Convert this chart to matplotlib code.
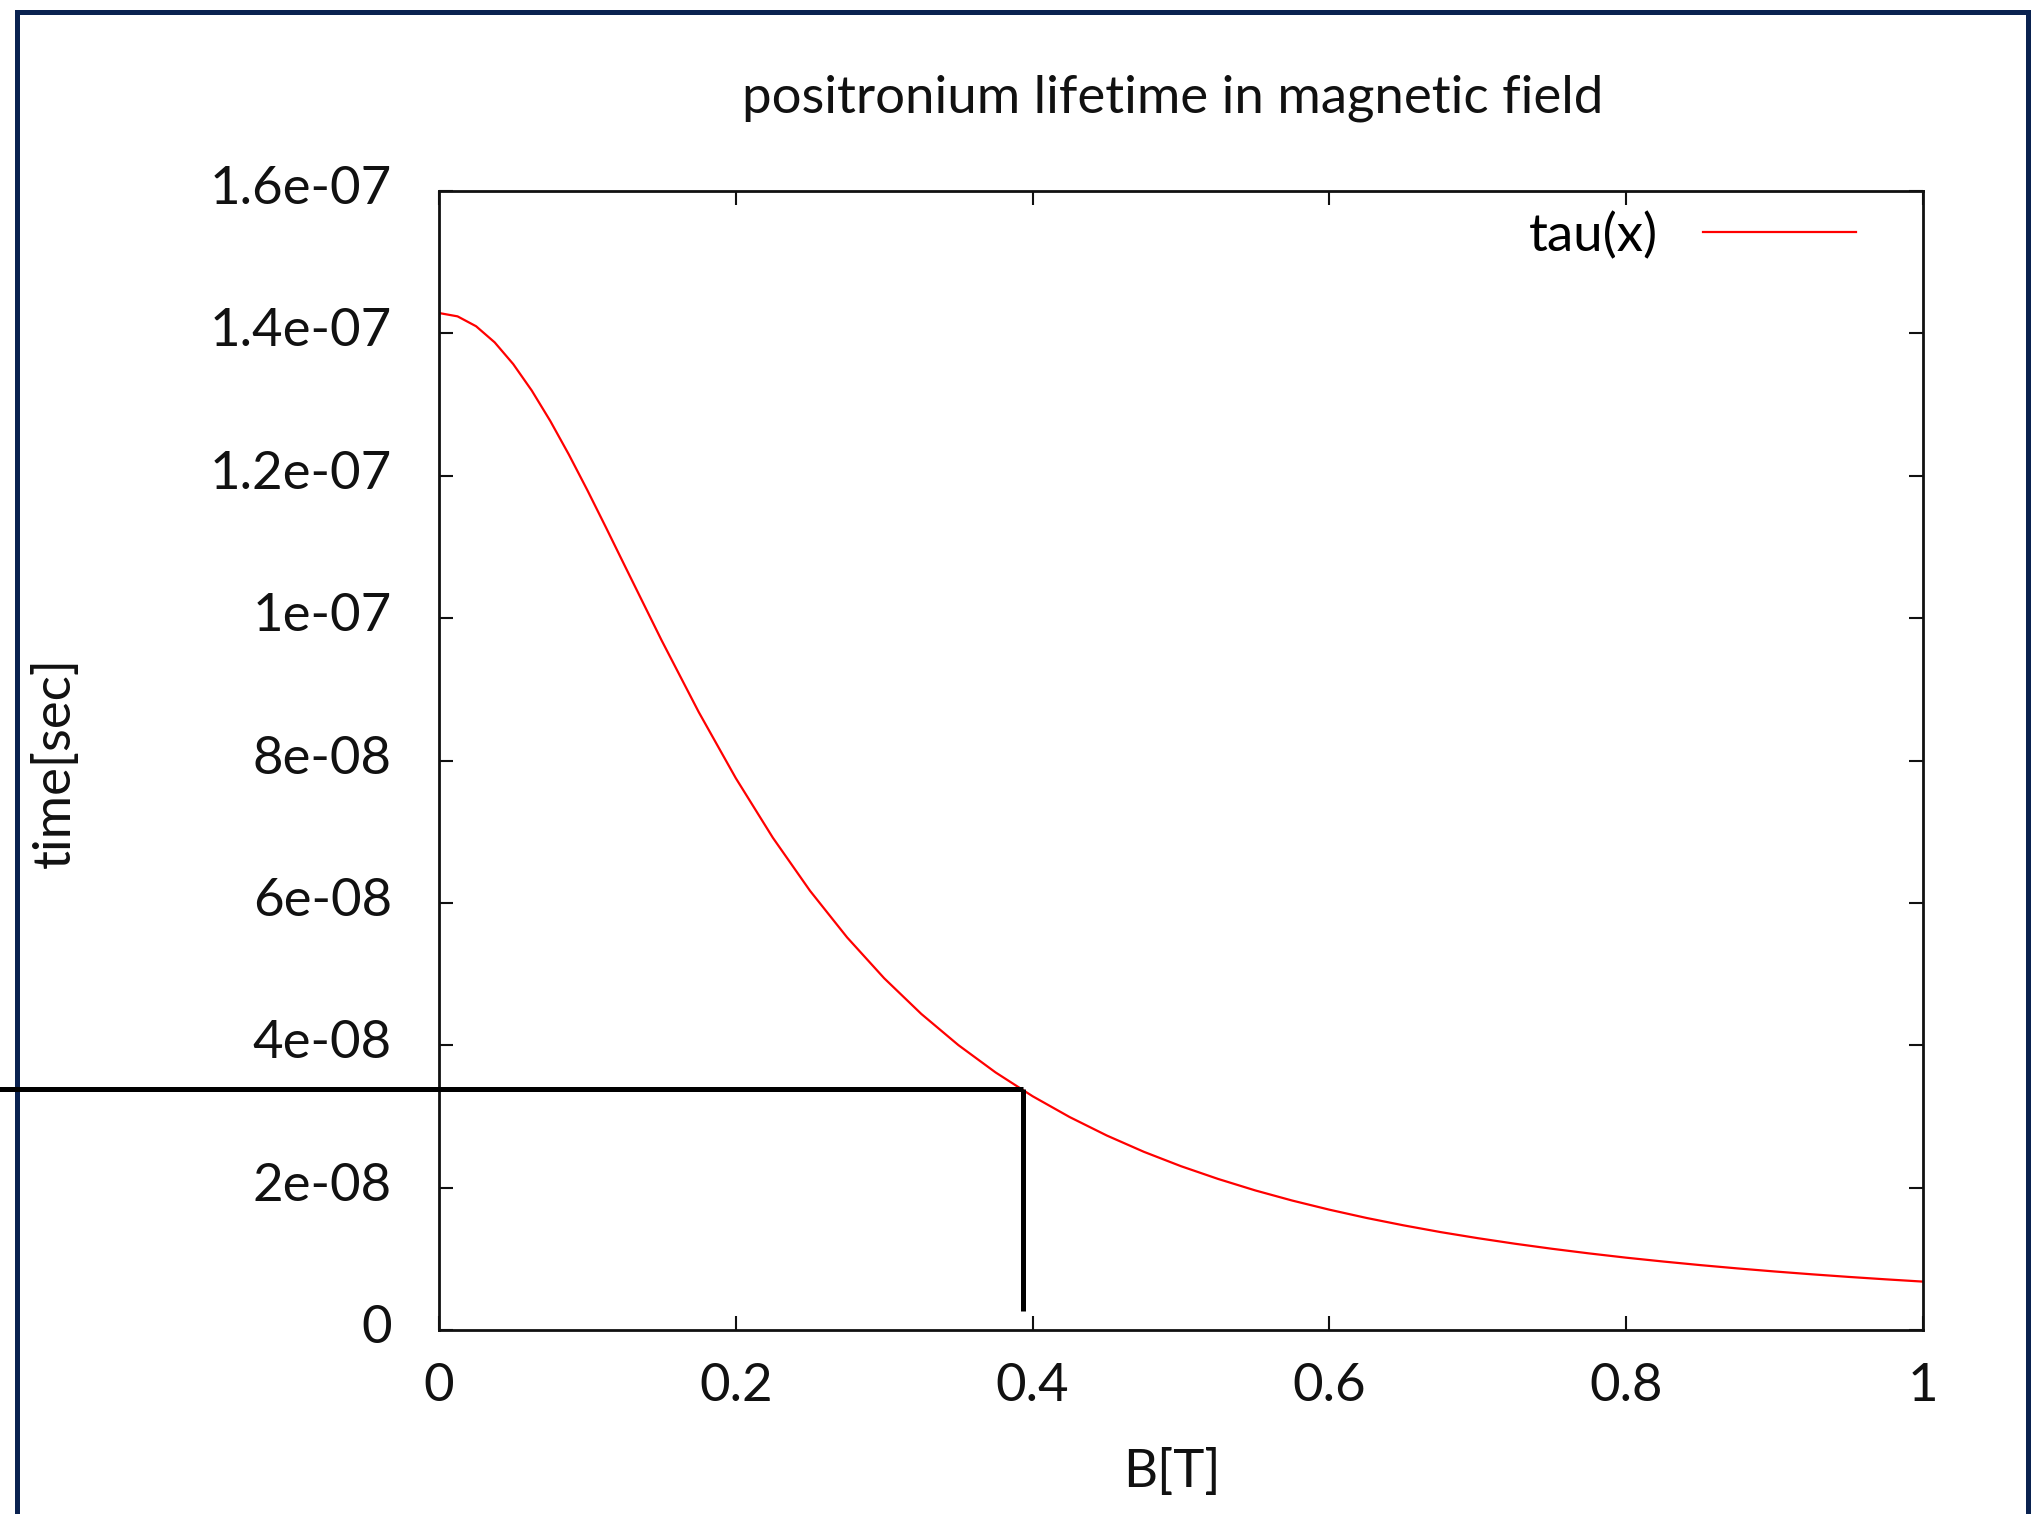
import matplotlib
matplotlib.use("Agg")
import matplotlib.pyplot as plt
from matplotlib.lines import Line2D

# ---- data ----
B_field = [0.0000, 0.0125, 0.0250, 0.0375, 0.0500, 0.0625, 0.0750, 0.0875,
           0.1000, 0.1125, 0.125, 0.150, 0.175, 0.200, 0.225,
           0.250, 0.275, 0.300, 0.325, 0.350, 0.375, 0.400, 0.425, 0.450, 0.475,
           0.500, 0.525, 0.550, 0.575, 0.600, 0.625, 0.650, 0.675, 0.700, 0.725,
           0.750, 0.775, 0.800, 0.825, 0.850, 0.875, 0.900, 0.925, 0.950, 0.975,
           1.000]
tau = [1.4286e-7, 1.4239e-7, 1.4100e-7, 1.3874e-7, 1.3569e-7, 1.3197e-7,
       1.2769e-7, 1.2298e-7, 1.1796e-7, 1.1274e-7, 1.0743e-7,
       9.688e-8, 8.681e-8, 7.752e-8, 6.914e-8, 6.170e-8, 5.515e-8, 4.941e-8,
       4.440e-8, 4.002e-8, 3.619e-8, 3.284e-8, 2.991e-8, 2.732e-8, 2.503e-8,
       2.301e-8, 2.122e-8, 1.961e-8, 1.818e-8, 1.690e-8, 1.574e-8, 1.470e-8,
       1.375e-8, 1.290e-8, 1.212e-8, 1.141e-8, 1.076e-8, 1.016e-8, 9.618e-9,
       9.115e-9, 8.651e-9, 8.222e-9, 7.825e-9, 7.457e-9, 7.116e-9, 6.797e-9]

x_ticks = [0.0, 0.2, 0.4, 0.6, 0.8, 1.0]
x_tick_labels = ["0", "0.2", "0.4", "0.6", "0.8", "1"]
y_ticks = [0.0, 2e-8, 4e-8, 6e-8, 8e-8, 1e-7, 1.2e-7, 1.4e-7, 1.6e-7]
y_tick_labels = ["0", "2e-08", "4e-08", "6e-08", "8e-08", "1e-07",
                 "1.2e-07", "1.4e-07", "1.6e-07"]

# marker lines (read-off point on the curve)
mark_B = 0.3935
mark_tau = 3.392e-8
mark_B_left = -0.30
mark_tau_bottom = 2.7e-9

title = "positronium lifetime in magnetic field"
xlabel = "B[T]"
ylabel = "time[sec]"
legend_label = "tau(x)"

# ---- figure ----
W, H = 2042, 1514
DPI = 100
plt.rcParams["font.family"] = ["Lato", "DejaVu Sans"]
FS = 38

fig = plt.figure(figsize=(W / DPI, H / DPI), dpi=DPI)
fig.patch.set_facecolor("white")

# navy frame (left, top, right edges)
navy = "#0a2250"
lw_frame = 5 * 72 / DPI
fx0, fx1 = 17 / W, 2028 / W
fy_top = 1 - 11.5 / H
fig.add_artist(Line2D([fx0, fx0, fx1, fx1], [0.0, fy_top, fy_top, 0.0],
                      transform=fig.transFigure, color=navy, lw=lw_frame,
                      solid_joinstyle="miter", zorder=-5))

ax_left, ax_right = 439 / W, 1923 / W
ax_bottom, ax_top = 1 - 1330 / H, 1 - 191 / H
ax = fig.add_axes([ax_left, ax_bottom, ax_right - ax_left, ax_top - ax_bottom])

ax.plot(B_field, tau, color="#ff0000", lw=1.6, label=legend_label)

ax.set_xlim(0, 1)
ax.set_ylim(0, 1.6e-7)
ax.set_xticks(x_ticks)
ax.set_xticklabels(x_tick_labels)
ax.set_yticks(y_ticks)
ax.set_yticklabels(y_tick_labels)

for s in ax.spines.values():
    s.set_linewidth(2.0)
    s.set_color("#111111")

ax.tick_params(axis="both", which="major", direction="in", length=10,
               width=1.5, top=True, right=True, labelsize=FS, colors="#111111")
ax.tick_params(axis="x", pad=24)
ax.tick_params(axis="y", pad=34)
for lab in ax.get_yticklabels():
    lab.set_verticalalignment("bottom")
    lab.set_y(lab.get_position()[1])
ax.yaxis.set_tick_params(which="major")
# nudge y labels slightly upward as in the reference
import matplotlib.transforms as mtransforms
offset = mtransforms.ScaledTranslation(0, 6 / DPI, fig.dpi_scale_trans)
for lab in ax.get_yticklabels():
    lab.set_verticalalignment("center_baseline")
    lab.set_transform(lab.get_transform() + offset)

# black read-off lines
ax.plot([mark_B_left, mark_B], [mark_tau, mark_tau], color="black",
        lw=3.6, clip_on=False, solid_capstyle="butt", zorder=5)
ax.plot([mark_B, mark_B], [mark_tau, mark_tau_bottom], color="black",
        lw=3.6, clip_on=False, solid_capstyle="butt", zorder=5)

leg = ax.legend(loc="upper right", bbox_to_anchor=(0.955, 0.982),
                frameon=False, markerfirst=False, fontsize=FS,
                handlelength=2.9, handletextpad=0.85, borderpad=0,
                borderaxespad=0)

fig.text(1173 / W, 1 - 112 / H, title, ha="center", va="baseline",
         fontsize=FS, color="#111111")
fig.text(1172 / W, 1 - 1472 / H, xlabel, ha="center", va="center",
         fontsize=FS, color="#111111")
fig.text(55 / W, 1 - 763 / H, ylabel, ha="center", va="center",
         rotation=90, fontsize=FS, color="#111111")

fig.savefig("out.png", dpi=DPI, facecolor="white")
